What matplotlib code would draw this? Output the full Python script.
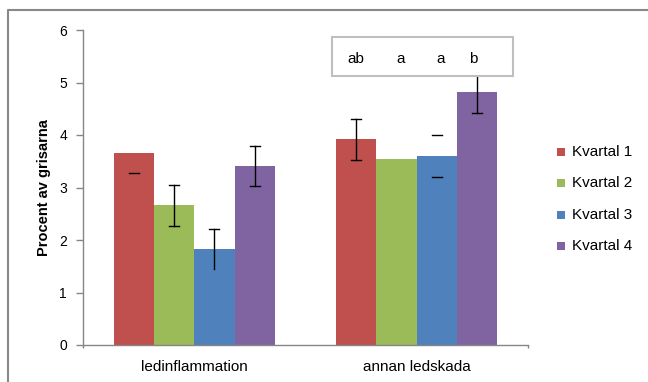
import matplotlib
matplotlib.use("Agg")
import matplotlib.pyplot as plt
from matplotlib.patches import Rectangle
from matplotlib.lines import Line2D
import numpy as np

plt.rcParams['font.family'] = ['Liberation Sans', 'DejaVu Sans']

categories = ["ledinflammation", "annan ledskada"]
series = ["Kvartal 1", "Kvartal 2", "Kvartal 3", "Kvartal 4"]
values = {
    "Kvartal 1": [3.66, 3.92],
    "Kvartal 2": [2.66, 3.54],
    "Kvartal 3": [1.83, 3.60],
    "Kvartal 4": [3.41, 4.81],
}
errors = {
    "Kvartal 1": [0.39, 0.39],
    "Kvartal 2": [0.39, 0.0],
    "Kvartal 3": [0.38, 0.40],
    "Kvartal 4": [0.385, 0.39],
}
# which parts of each error bar are visible in the reference: (line, upper cap, lower cap)
err_visible = {
    "Kvartal 1": [(False, False, True), (True, True, True)],
    "Kvartal 2": [(True, True, True), (False, False, False)],
    "Kvartal 3": [(True, True, False), (False, True, True)],
    "Kvartal 4": [(True, True, True), (True, False, True)],
}
sig_letters = ["ab", "a", "a", "b"]
yticks = [0, 1, 2, 3, 4, 5, 6]
colors = ["#C0504D", "#9BBB59", "#4F81BD", "#8064A2"]

W, H = 648, 382
fig = plt.figure(figsize=(W / 100, H / 100), dpi=100)
ax = fig.add_axes([83 / W, 1 - 345 / H, 445 / W, 315 / H])

x = np.arange(len(categories))
bw = 0.181
offsets = (np.arange(len(series)) - 1.5) * bw
cap_half = 0.022

for i, s in enumerate(series):
    xs = x + offsets[i]
    ax.bar(xs, values[s], width=bw, color=colors[i], zorder=2)
    for j, xc in enumerate(xs):
        v, e = values[s][j], errors[s][j]
        line, up, low = err_visible[s][j]
        if line:
            ax.plot([xc, xc], [v - e, v + e], color="black", lw=1.0, zorder=3)
        if up:
            ax.plot([xc - cap_half, xc + cap_half], [v + e, v + e], color="black", lw=1.0, zorder=3)
        if low:
            ax.plot([xc - cap_half, xc + cap_half], [v - e, v - e], color="black", lw=1.0, zorder=3)

ax.set_xlim(-0.5, 1.5)
ax.set_ylim(0, 6)
ax.set_yticks(yticks)
ax.set_xticks(x)
ax.set_xticklabels(categories, fontsize=11)
ax.tick_params(axis="x", length=0, pad=11)
ax.tick_params(axis="y", direction="out", length=5, width=1, color="#868686", pad=6.5, labelsize=10)
ax.set_xticks([-0.5, 1.5], minor=True)
ax.tick_params(axis="x", which="minor", direction="out", length=2.5, width=1, color="#868686")
for sp in ["top", "right"]:
    ax.spines[sp].set_visible(False)
for sp in ["left", "bottom"]:
    ax.spines[sp].set_color("#868686")
    ax.spines[sp].set_linewidth(1.0)

ax.set_ylabel("Procent av grisarna", fontsize=10.5, fontweight="bold")
ax.yaxis.set_label_coords((51 - 83) / 445, 0.5)

# significance box
box = Rectangle((0.559, 0.855), 0.4066, 0.1218, transform=ax.transAxes,
                facecolor="white", edgecolor="#BFBFBF", lw=1.5, zorder=5, clip_on=False)
ax.add_patch(box)
nudges = [-0.002, 0.018, 0.018, -0.018]
for k, lab in enumerate(sig_letters):
    ax.text(x[1] + offsets[k] + nudges[k], 5.45, lab, ha="center", va="center",
            fontsize=11, zorder=6)

# legend
row_y = [152, 183.3, 214.6, 246]
for i, s in enumerate(series):
    yc = row_y[i]
    fig.patches.append(Rectangle((557 / W, 1 - (yc + 4) / H), 8 / W, 8 / H,
                                 transform=fig.transFigure, facecolor=colors[i],
                                 edgecolor="none"))
    fig.text(572 / W, 1 - yc / H, s, ha="left", va="center", fontsize=11)

# outer frame
fig.add_artist(Line2D([8 / W, 8 / W, 1], [0, 1 - 10 / H, 1 - 10 / H],
                      transform=fig.transFigure, color="#888888", lw=1.5))

fig.savefig("out.png", dpi=100)
